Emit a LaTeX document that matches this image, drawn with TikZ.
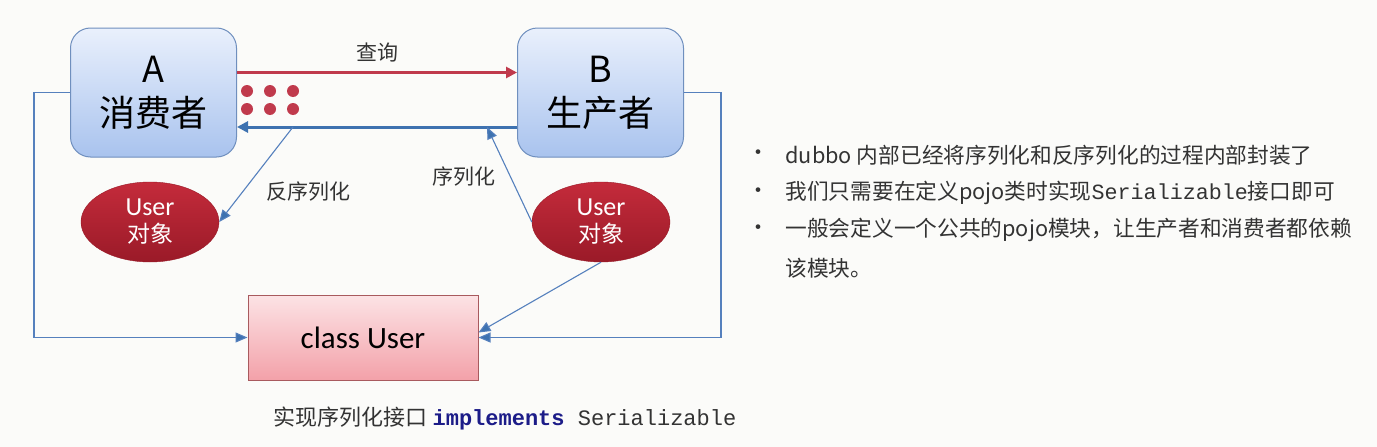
\documentclass[tikz,border=0pt]{standalone}
\usepackage{fontspec}
\usepackage{xcolor}
\setmainfont{Noto Sans CJK SC}
\newfontfamily\carlito{Carlito}
\newfontfamily\codefont{Liberation Mono}
\usetikzlibrary{arrows.meta,shapes.geometric}
\definecolor{pagebg}{HTML}{FBFBF9}
\definecolor{roletop}{HTML}{E9F0FC}
\definecolor{rolebot}{HTML}{A9C3EE}
\definecolor{roleline}{HTML}{6F8FBE}
\definecolor{objtop}{HTML}{C42B3B}
\definecolor{objbot}{HTML}{9A1A28}
\definecolor{clstop}{HTML}{FCE3E5}
\definecolor{clsbot}{HTML}{F3A1A9}
\definecolor{clsline}{HTML}{A85A5E}
\definecolor{askred}{HTML}{C03A4C}
\definecolor{backblue}{HTML}{3E72B0}
\definecolor{wireblue}{HTML}{5580BD}
\definecolor{kwnavy}{HTML}{1C1C88}
\definecolor{txtgray}{HTML}{333333}

\begin{document}
\begin{tikzpicture}[x=1pt, y=-1pt,
  role/.style={draw=roleline, line width=1pt, rounded corners=20pt,
               top color=roletop, bottom color=rolebot,
               minimum width=166pt, minimum height=129pt, align=center,
               font=\fontsize{36}{44}\selectfont},
  obj/.style={ellipse, draw=objbot, top color=objtop, bottom color=objbot,
              minimum width=138pt, minimum height=80pt, text=white,
              align=center, inner sep=0pt, font=\fontsize{23}{27}\selectfont},
  cls/.style={draw=clsline, line width=1pt, top color=clstop, bottom color=clsbot,
              minimum width=230pt, minimum height=85pt,
              font=\carlito\fontsize{31}{34}\selectfont},
  lbl/.style={text=txtgray, font=\fontsize{21}{24}\selectfont},
  note/.style={anchor=west, text=txtgray, font=\fontsize{21.7}{26}\selectfont},
  thick arr/.style={line width=3pt, -{Triangle[length=11pt, width=11pt]}},
  wire/.style={draw=wireblue, line width=1.1pt,
               -{Triangle[length=12pt, width=10pt, fill=backblue]}}
]
  \fill[pagebg] (0,0) rectangle (1377,447);
  \useasboundingbox (0,0) rectangle (1377,447);

  % the two parties
  \node[role] (a) at (153.5, 92.5) {A\\消费者};
  \node[role] (b) at (600.5, 92.5) {B\\生产者};

  % the User objects and the shared class
  \node[obj] (ua) at (150, 222) {{\carlito\fontsize{26}{27}\selectfont User}\\对象};
  \node[obj] (ub) at (601, 222) {{\carlito\fontsize{26}{27}\selectfont User}\\对象};
  \node[cls] (cu) at (363, 337.5) {class User};

  % request and response
  \draw[thick arr, askred] ([yshift=20pt]a.east) -- ([yshift=20pt]a.east -| b.west)
    node[midway, above=6pt, lbl] (q) {查询};
  \draw[thick arr, backblue] ([yshift=-34.5pt]b.west) -- ([yshift=-34.5pt]b.west -| a.east);
  \foreach \x in {247, 270, 293}
    \foreach \y in {91, 109}
      \fill[askred] (\x, \y) circle (6pt);

  \coordinate (de) at (293, 127);
  \coordinate (se) at (487, 127);
  \draw[wire] (de) -- (ua.east);
  \draw[wire] (ub.west) -- (se);
  \node[lbl] (dl) at (308, 192) {反序列化};
  \node[lbl] (sl) at (464, 177) {序列化};

  % both sides depend on the class
  \draw[wire] (a.west) -- ++(-36, 0) |- (cu.west);
  \draw[wire] (b.east) -- ++(37, 0) |- (cu.east);
  \draw[wire] (ub.south) -- ([yshift=5pt]cu.east);

  \node[text=txtgray, font=\fontsize{22}{26}\selectfont] (impl) at (505, 418)
    {实现序列化接口 {\codefont{\bfseries\color{kwnavy}implements} Serializable}};

  % notes
  \node[note] (n1) at (782, 155) {dubbo 内部已经将序列化和反序列化的过程内部封装了};
  \node[note] (n2) at (782, 193) {我们只需要在定义pojo类时实现{\codefont Serializable}接口即可};
  \node[note] (n3) at (782, 230) {一般会定义一个公共的pojo模块，让生产者和消费者都依赖};
  \node[note] (n4) at (782, 268) {该模块。};
  \foreach \n in {n1, n2, n3}
    \node[text=txtgray, font=\fontsize{22}{24}\selectfont] at ([xshift=-24pt]\n.west) {•};
\end{tikzpicture}
\end{document}
